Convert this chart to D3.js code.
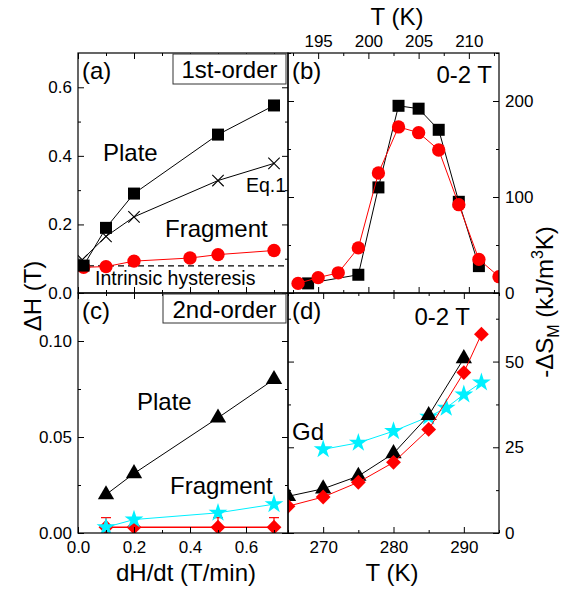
<!DOCTYPE html>
<html>
<head>
<meta charset="utf-8">
<script src="https://cdn.jsdelivr.net/npm/d3@7"></script>
<style>
    body { margin: 0; background: #ffffff; }
    svg text { font-family: "Liberation Sans", Arial, sans-serif; fill: #000000; }
</style>
</head>
<body>
<svg id="figure" width="564" height="589"></svg>
<script>
// panel (a): 1st-order, hysteresis vs sweep rate
const rate_plate_1st     = [0.02, 0.1, 0.2, 0.5, 0.7];
const dh_plate_1st       = [0.080, 0.190, 0.290, 0.462, 0.547];
const rate_eq1           = [0.015, 0.1, 0.2, 0.5, 0.7];
const dh_eq1             = [0.097, 0.165, 0.222, 0.328, 0.378];
const rate_fragment_1st  = [0.02, 0.1, 0.2, 0.4, 0.5, 0.7];
const dh_fragment_1st    = [0.075, 0.077, 0.093, 0.102, 0.112, 0.124];
const dh_intrinsic       = 0.079;

// panel (c): 2nd-order, hysteresis vs sweep rate
const rate_2nd           = [0.1, 0.2, 0.5, 0.7];
const dh_plate_2nd       = [0.020, 0.031, 0.060, 0.080];
const dh_fragment_2nd    = [0.003, 0.003, 0.003, 0.003];
const dh_fragment_2nd_er = [0.005, 0.005, 0.005, 0.005];
const dh_gd_2nd          = [0.003, 0.007, 0.0105, 0.015];

// panel (b): 1st-order entropy change
const temp_plate_1st     = [194, 199, 201, 203, 205, 207, 209, 211];
const ds_plate_1st       = [10, 19, 110, 195, 192, 170, 95, 28];
const temp_fragment_1st  = [193, 195, 197, 199, 201, 203, 205, 207, 209, 211, 213];
const ds_fragment_1st    = [10, 16, 21, 47, 125, 173, 167, 149, 92, 35, 17];

// panel (d): 2nd-order entropy change
const temp_plate_2nd     = [265, 270, 275, 280, 285, 290];
const ds_plate_2nd       = [10.7, 12.9, 16.6, 23.2, 34.3, 50.9];
const temp_fragment_2nd  = [265, 270, 275, 280, 285, 290, 292.5];
const ds_fragment_2nd    = [7.8, 10.5, 14.8, 20.6, 30.2, 46.8, 58];
const temp_gd            = [270, 275, 280, 285, 287.5, 290, 292.5];
const ds_gd              = [24.4, 26.3, 29.7, 33.9, 36.5, 40.4, 43.9];

// tick values
const rate_major  = [0, 0.2, 0.4, 0.6];
const rate_minor  = [0.1, 0.3, 0.5, 0.7];
const dh1_major   = [0, 0.2, 0.4, 0.6];
const dh1_minor   = [0.1, 0.3, 0.5];
const dh2_major   = [0, 0.05, 0.10];
const dh2_minor   = [0.025, 0.075, 0.125];
const t1_major    = [195, 200, 205, 210];
const t1_minor    = [192.5, 197.5, 202.5, 207.5, 212.5];
const ds1_major   = [0, 100, 200];
const ds1_minor   = [50, 150, 250];
const t2_major    = [270, 280, 290];
const t2_minor    = [265, 275, 285, 295];
const ds2_major   = [0, 25, 50];
const ds2_minor   = [12.5, 37.5, 62.5];

const RED   = "#ff0000";
const CYAN  = "#00f0ff";
const BLACK = "#000000";

const svg  = d3.select("#figure");
const defs = svg.append("defs");

const col_x = [78, 288, 499];
const row_y = [53, 293, 533];

function make_panel(id, x0, x1, y0, y1, x_domain, y_domain)
{
    let panel = {};

    panel.x   = d3.scaleLinear().domain(x_domain).range([x0, x1]);
    panel.y   = d3.scaleLinear().domain(y_domain).range([y1, y0]);
    panel.box = {x0: x0, x1: x1, y0: y0, y1: y1};

    defs.append("clipPath").attr("id", "clip_" + id)
        .append("rect")
        .attr("x", x0).attr("y", y0)
        .attr("width", x1 - x0).attr("height", y1 - y0);

    panel.g = svg.append("g").attr("clip-path", "url(#clip_" + id + ")");

    return panel;
}

function draw_axes(panel, spec)
{
    const b = panel.box;

    const sides = [
        {make: d3.axisBottom, scale: panel.x, at: `translate(0,${b.y1})`, major: spec.x_major, minor: spec.x_minor, name: "bottom", fmt: spec.x_fmt, pad: 8},
        {make: d3.axisTop,    scale: panel.x, at: `translate(0,${b.y0})`, major: spec.x_major, minor: spec.x_minor, name: "top",    fmt: spec.x_fmt, pad: 6},
        {make: d3.axisLeft,   scale: panel.y, at: `translate(${b.x0},0)`, major: spec.y_major, minor: spec.y_minor, name: "left",   fmt: spec.y_fmt, pad: 6},
        {make: d3.axisRight,  scale: panel.y, at: `translate(${b.x1},0)`, major: spec.y_major, minor: spec.y_minor, name: "right",  fmt: spec.y_fmt, pad: 6}
    ];

    sides.forEach(side =>
    {
        const labelled = spec.labels.includes(side.name);

        const major_axis = side.make(side.scale)
            .tickValues(side.major)
            .tickSizeInner(-6)
            .tickSizeOuter(0)
            .tickPadding(side.pad)
            .tickFormat(labelled ? side.fmt : "");

        const minor_axis = side.make(side.scale)
            .tickValues(side.minor)
            .tickSizeInner(-3)
            .tickSizeOuter(0)
            .tickFormat("");

        svg.append("g").attr("transform", side.at).call(minor_axis)
            .call(g => g.select(".domain").remove());

        svg.append("g").attr("transform", side.at).call(major_axis)
            .attr("font-family", null)
            .attr("font-size", 17)
            .call(g => g.select(".domain").remove());
    });

    svg.append("rect")
        .attr("x", b.x0).attr("y", b.y0)
        .attr("width", b.x1 - b.x0).attr("height", b.y1 - b.y0)
        .attr("fill", "none")
        .attr("stroke", BLACK)
        .attr("stroke-width", 1.2);
}

const symbol_cross =
{
    draw(context, size)
    {
        const r = Math.sqrt(size) / 2;
        context.moveTo(-r, -r); context.lineTo(r, r);
        context.moveTo(r, -r);  context.lineTo(-r, r);
    }
};

function draw_series(panel, xs, ys, opt)
{
    const points = xs.map((x, i) => [x, ys[i]]);

    const line = d3.line()
        .x(d => panel.x(d[0]))
        .y(d => panel.y(d[1]));

    panel.g.append("path")
        .datum(points)
        .attr("d", line)
        .attr("fill", "none")
        .attr("stroke", opt.line_color || opt.color)
        .attr("stroke-width", opt.line_width || 1);

    panel.g.selectAll(null).data(points)
        .enter().append("path")
        .attr("d", d3.symbol().type(opt.symbol).size(opt.size))
        .attr("transform", d => `translate(${panel.x(d[0])},${panel.y(d[1])}) rotate(${opt.rotate || 0})`)
        .attr("fill",   opt.hollow ? "none" : opt.color)
        .attr("stroke", opt.hollow ? opt.color : "none")
        .attr("stroke-width", opt.hollow ? 1.1 : 0);
}

function add_text(txt, x, y, size, anchor)
{
    return svg.append("text")
        .attr("x", x).attr("y", y)
        .attr("font-size", size)
        .attr("text-anchor", anchor || "start")
        .text(txt);
}

function add_box_label(txt, x0, y0, w, h, baseline)
{
    svg.append("rect")
        .attr("x", x0).attr("y", y0)
        .attr("width", w).attr("height", h)
        .attr("fill", "#ffffff")
        .attr("stroke", "#333333")
        .attr("stroke-width", 1);

    add_text(txt, x0 + w / 2, baseline, 24, "middle");
}

// the following code is used to build our four panels
const panel_a = make_panel("a", col_x[0], col_x[1], row_y[0], row_y[1], [0, 0.75], [0, 0.7]);
const panel_b = make_panel("b", col_x[1], col_x[2], row_y[0], row_y[1], [192, 213], [0, 250]);
const panel_c = make_panel("c", col_x[0], col_x[1], row_y[1], row_y[2], [0, 0.75], [0, 0.125]);
const panel_d = make_panel("d", col_x[1], col_x[2], row_y[1], row_y[2], [265, 295], [0, 70]);

// panel (a)
panel_a.g.append("line")
    .attr("x1", col_x[0]).attr("x2", col_x[1])
    .attr("y1", panel_a.y(dh_intrinsic)).attr("y2", panel_a.y(dh_intrinsic))
    .attr("stroke", BLACK)
    .attr("stroke-width", 1.2)
    .attr("stroke-dasharray", "6,4");

draw_series(panel_a, rate_fragment_1st, dh_fragment_1st, {color: RED, symbol: d3.symbolCircle, size: 140});
draw_series(panel_a, rate_eq1, dh_eq1, {color: BLACK, symbol: symbol_cross, size: 130, hollow: true});
draw_series(panel_a, rate_plate_1st, dh_plate_1st, {color: BLACK, symbol: d3.symbolSquare, size: 144});

// panel (b)
draw_series(panel_b, temp_plate_1st, ds_plate_1st, {color: BLACK, symbol: d3.symbolSquare, size: 144});
draw_series(panel_b, temp_fragment_1st, ds_fragment_1st, {color: RED, symbol: d3.symbolCircle, size: 140});

// panel (c)
draw_series(panel_c, rate_2nd, dh_plate_2nd, {color: BLACK, symbol: d3.symbolTriangle, size: 115});

rate_2nd.forEach((r, i) =>
{
    const xc  = panel_c.x(r);
    const top = panel_c.y(dh_fragment_2nd[i] + dh_fragment_2nd_er[i]);
    const bot = panel_c.y(dh_fragment_2nd[i] - dh_fragment_2nd_er[i]);

    panel_c.g.append("line").attr("x1", xc).attr("x2", xc).attr("y1", top).attr("y2", bot)
        .attr("stroke", RED).attr("stroke-width", 1.2);
    panel_c.g.append("line").attr("x1", xc - 5).attr("x2", xc + 5).attr("y1", top).attr("y2", top)
        .attr("stroke", RED).attr("stroke-width", 1.2);
});

draw_series(panel_c, rate_2nd, dh_fragment_2nd, {color: RED, symbol: d3.symbolSquare, size: 110, rotate: 45, line_width: 1.5});
draw_series(panel_c, rate_2nd, dh_gd_2nd, {color: CYAN, symbol: d3.symbolStar, size: 110});

// panel (d)
draw_series(panel_d, temp_gd, ds_gd, {color: CYAN, symbol: d3.symbolStar, size: 110});
draw_series(panel_d, temp_plate_2nd, ds_plate_2nd, {color: BLACK, symbol: d3.symbolTriangle, size: 115});
draw_series(panel_d, temp_fragment_2nd, ds_fragment_2nd, {color: RED, symbol: d3.symbolSquare, size: 110, rotate: 45});

// the following code is used to draw ticks and frames
draw_axes(panel_a, {x_major: rate_major, x_minor: rate_minor, y_major: dh1_major, y_minor: dh1_minor,
                    x_fmt: d3.format(".1f"), y_fmt: d3.format(".1f"), labels: ["left"]});
draw_axes(panel_c, {x_major: rate_major, x_minor: rate_minor, y_major: dh2_major, y_minor: dh2_minor,
                    x_fmt: d3.format(".1f"), y_fmt: d3.format(".2f"), labels: ["left", "bottom"]});
draw_axes(panel_b, {x_major: t1_major, x_minor: t1_minor, y_major: ds1_major, y_minor: ds1_minor,
                    x_fmt: d3.format("d"), y_fmt: d3.format("d"), labels: ["top", "right"]});
draw_axes(panel_d, {x_major: t2_major, x_minor: t2_minor, y_major: ds2_major, y_minor: ds2_minor,
                    x_fmt: d3.format("d"), y_fmt: d3.format("d"), labels: ["bottom", "right"]});

// the following code is used to write panel labels
add_text("(a)", 82, 79, 24);
add_text("(b)", 292, 79, 24);
add_text("(c)", 82, 319, 24);
add_text("(d)", 292, 319, 24);

add_box_label("1st-order", 173, 54, 113, 30, 78);
add_box_label("2nd-order", 163, 294, 123, 29, 318);

add_text("0-2 T", 492, 83, 24, "end");
add_text("0-2 T", 470, 325, 24, "end");

add_text("Plate", 103, 161, 24);
add_text("Eq.1", 246, 192, 19.5);
add_text("Fragment", 165, 237, 24);
add_text("Intrinsic hysteresis", 95, 285, 19.5);
add_text("Plate", 137, 410, 24);
add_text("Fragment", 170, 494, 24);
add_text("Gd", 292, 440, 24);

// the following code is used to write axis titles
add_text("dH/dt (T/min)", 186, 581, 24, "middle");
add_text("T (K)", 392, 581, 24, "middle");
add_text("T (K)", 397, 25, 24, "middle");

svg.append("text")
    .attr("transform", "translate(41,296) rotate(-90)")
    .attr("font-size", 24)
    .attr("text-anchor", "middle")
    .text("ΔH (T)");

const ds_title = svg.append("text")
    .attr("transform", "translate(553,302) rotate(-90)")
    .attr("font-size", 24)
    .attr("text-anchor", "middle");

ds_title.append("tspan").text("-ΔS");
ds_title.append("tspan").attr("font-size", 16).attr("dy", 6).text("M");
ds_title.append("tspan").attr("dy", -6).text(" (kJ/m");
ds_title.append("tspan").attr("font-size", 16).attr("dy", -10).text("3");
ds_title.append("tspan").attr("dy", 10).text("K)");
</script>
</body>
</html>
